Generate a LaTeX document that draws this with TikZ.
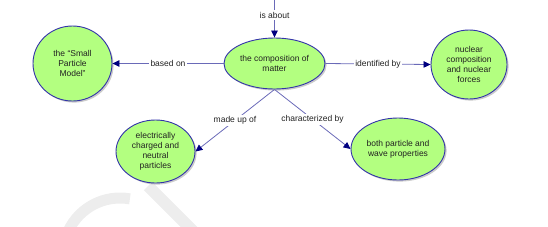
\documentclass[tikz,border=0pt]{standalone}
\usepackage{fontspec}
\setmainfont{Liberation Sans}
\usetikzlibrary{shapes.geometric, positioning, arrows.meta, calc, shadows}
\definecolor{cmapGreen}{HTML}{B3FF80}
\definecolor{cmapBorder}{HTML}{3333AA}
\definecolor{cmapLine}{HTML}{6A6AB8}
\definecolor{cmapNavy}{HTML}{000080}
\definecolor{cmapText}{HTML}{222222}
\definecolor{cmapMark}{HTML}{EDEDED}

\begin{document}
\begin{tikzpicture}[
    concept/.style={
        ellipse, draw=cmapBorder, line width=0.9pt, fill=cmapGreen,
        inner sep=0pt, align=center, text=cmapText,
        font=\fontsize{8.5}{10}\selectfont,
        drop shadow={shadow xshift=1.6pt, shadow yshift=-1.6pt, fill=black!45, opacity=0.45}
    },
    link/.style={-{Triangle[length=7pt, width=6.5pt, color=cmapNavy]}, line width=0.8pt, draw=cmapLine},
    linklabel/.style={font=\fontsize{8.5}{10}\selectfont, text=cmapText, fill=white, inner sep=1.5pt},
    watermark/.style={draw=cmapMark, line width=11pt},
]
\useasboundingbox (0,0) rectangle (548pt,-226pt);

% faint watermark at the bottom
\begin{scope}
    \clip (0,0) rectangle (548pt,-226pt);
    \draw[watermark] (120pt,-255pt) ++(155:57pt) arc[start angle=155, end angle=80, radius=57pt];
    \draw[watermark, line width=12pt] (148pt,-186pt) -- (196pt,-234pt);
\end{scope}

% Main concept
\node[concept, minimum width=101pt, minimum height=51pt] (matter) at (274.5pt,-63.5pt)
    {the composition of\\matter};

% Linked concepts
\node[concept, minimum width=79pt, minimum height=75pt] (model) at ($(matter.center)+(-202pt,0)$)
    {the “Small\\Particle\\Model”};
\node[concept, minimum width=76pt, minimum height=69pt] (nuclear) at ($(matter.center)+(194.5pt,-1pt)$)
    {nuclear\\composition\\and nuclear\\forces};
\node[concept, minimum width=79pt, minimum height=63pt] (particles) at ($(matter.center)+(-119pt,-88pt)$)
    {electrically\\charged and\\neutral\\particles};
\node[concept, minimum width=94pt, minimum height=62pt] (wave) at ($(matter.center)+(123.5pt,-85.5pt)$)
    {both particle and\\wave properties};

\coordinate (topend) at ($(matter.center)+(0,63.5pt)$);

% Links
\draw[link] (topend) -- node[linklabel, pos=0.4] {is about} (matter.north);
\draw[link] (matter.west) -- node[linklabel] {based on} (model.east);
\draw[link] (matter.east) -- node[linklabel] {identified by} (nuclear.west);
\draw[link] (matter.south) -- node[linklabel] {made up of} (particles.east);
\draw[link] (matter.south) -- node[linklabel] {characterized by} (wave.west);

\end{tikzpicture}
\end{document}
